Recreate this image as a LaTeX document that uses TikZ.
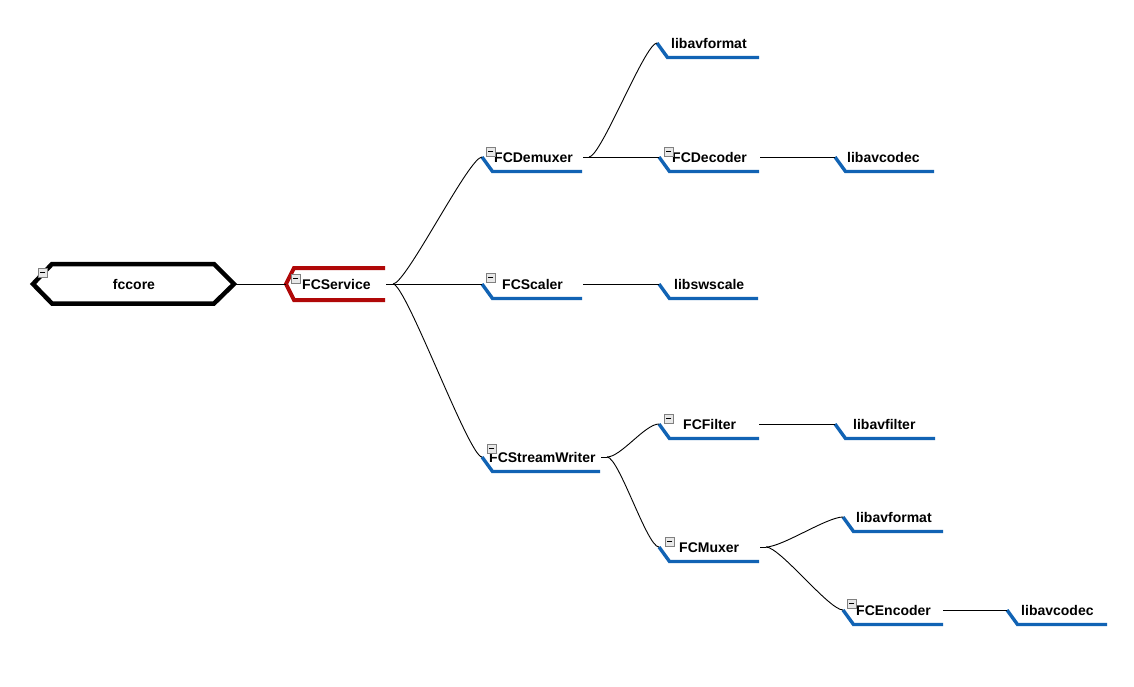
\documentclass[tikz,border=0pt]{standalone}
\usepackage{fontspec}
\setmainfont{Liberation Sans}
\definecolor{barblue}{RGB}{17,99,180}
\definecolor{barred}{RGB}{176,8,8}
\definecolor{icongray}{RGB}{128,128,128}
\definecolor{iconfill}{RGB}{232,232,232}
\tikzset{
  lbl/.style={inner sep=0pt, anchor=base west, font=\fontsize{14}{16}\selectfont\bfseries, text=black},
  bluebar/.style={draw=barblue, line width=3.4pt, line cap=butt, line join=miter},
  redbar/.style={draw=barred, line width=4pt, line cap=butt, line join=miter},
  rootshape/.style={draw=black, line width=4.5pt, line join=miter},
  conn/.style={draw=black, line width=0.9pt},
  iconbox/.style={draw=icongray, fill=iconfill, line width=0.8pt, minimum size=9pt, inner sep=0pt, anchor=north west}
}
% #1 name, #2 slant x, #3 slant top y, #4 bar right end, #5 text x, #6 text
\newcommand\bluetopic[6]{%
  \coordinate (#1-in) at (#2,#3);
  \draw[bluebar] (#2,#3) -- ++(10.5,14.5) -- (#4,#3+14.5);
  \node[lbl] (#1) at (#5,#3+5.5) {#6};
}
\newcommand\minusicon[3]{%
  \node[iconbox] (#1) at (#2,#3) {};
  \draw[black, line width=1pt] ([xshift=2.5pt]#1.center) -- ([xshift=-2.5pt]#1.center);
}
\begin{document}
\begin{tikzpicture}[x=1pt,y=-1pt]
\useasboundingbox (0,0) rectangle (1134,687);
\fill[white] (0,0) rectangle (1134,687);

% root
\draw[rootshape] (33,284) -- (52,264) -- (214,264) -- (234,284) -- (214,303.5) -- (52,303.5) -- cycle;
\node[lbl, anchor=base] (fccore) at (134,289.5) {fccore};
\coordinate (root-out) at (235,284);
\minusicon{i-root}{38}{268}

% FCService
\draw[redbar] (385,268) -- (294,268) -- (286,284) -- (294,300) -- (385,300);
\node[lbl] (service) at (302,289.5) {FCService};
\coordinate (service-in) at (286,284);
\coordinate (service-out) at (386,284);
\coordinate (service-fork) at (393,284);
\minusicon{i-service}{291}{274}

% level 2
\bluetopic{demux}{482}{157}{582}{494}{FCDemuxer}
\bluetopic{scaler}{482}{284}{582}{502}{FCScaler}
\bluetopic{sw}{482}{457}{600}{489}{FCStreamWriter}
\minusicon{i-demux}{486}{147}
\minusicon{i-scaler}{486}{273}
\minusicon{i-sw}{487}{444}

% level 3
\bluetopic{avformatA}{657}{43}{759}{671}{libavformat}
\bluetopic{decoder}{659}{157}{759}{672}{FCDecoder}
\bluetopic{swscale}{659}{284}{758}{674}{libswscale}
\bluetopic{filter}{659}{424}{759}{683}{FCFilter}
\bluetopic{muxer}{659}{547}{759}{679}{FCMuxer}
\minusicon{i-decoder}{664}{147}
\minusicon{i-filter}{664}{414}
\minusicon{i-muxer}{665}{537}

% level 4
\bluetopic{avcodecA}{835}{157}{934}{847}{libavcodec}
\bluetopic{avfilter}{835}{424}{935}{853}{libavfilter}
\bluetopic{avformatB}{843}{517}{943}{856}{libavformat}
\bluetopic{encoder}{843}{610}{943}{856}{FCEncoder}
\minusicon{i-encoder}{847}{599}

% level 5
\bluetopic{avcodecB}{1007}{610}{1107}{1021}{libavcodec}

% out/fork coordinates
\coordinate (demux-out) at (583,157);
\coordinate (demux-fork) at (589,157);
\coordinate (decoder-out) at (760,157);
\coordinate (scaler-out) at (583,284);
\coordinate (sw-out) at (601,457);
\coordinate (sw-fork) at (607,457);
\coordinate (filter-out) at (759,424);
\coordinate (muxer-out) at (760,547);
\coordinate (muxer-fork) at (766,547);
\coordinate (encoder-out) at (943,610);

% connectors
\draw[conn] (root-out) -- (service-in);
\draw[conn] (service-out) -- (service-fork);
\draw[conn] (service-fork) .. controls +(13,0) and +(-13,0) .. (demux-in);
\draw[conn] (service-fork) -- (scaler-in);
\draw[conn] (service-fork) .. controls +(13,0) and +(-13,0) .. (sw-in);

\draw[conn] (demux-out) -- (decoder-in);
\draw[conn] (demux-fork) .. controls +(12,0) and +(-12,0) .. (avformatA-in);
\draw[conn] (decoder-out) -- (avcodecA-in);
\draw[conn] (scaler-out) -- (swscale-in);

\draw[conn] (sw-out) -- (sw-fork);
\draw[conn] (sw-fork) .. controls +(14,0) and +(-14,0) .. (filter-in);
\draw[conn] (sw-fork) .. controls +(12,0) and +(-12,0) .. (muxer-in);
\draw[conn] (filter-out) -- (avfilter-in);

\draw[conn] (muxer-out) -- (muxer-fork);
\draw[conn] (muxer-fork) .. controls +(16,0) and +(-16,0) .. (avformatB-in);
\draw[conn] (muxer-fork) .. controls +(14,0) and +(-14,0) .. (encoder-in);
\draw[conn] (encoder-out) -- (avcodecB-in);
\end{tikzpicture}
\end{document}
